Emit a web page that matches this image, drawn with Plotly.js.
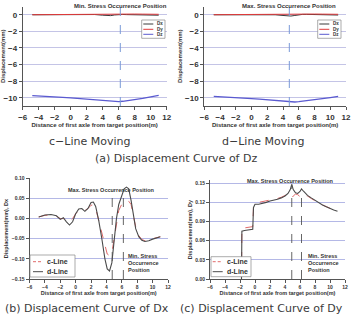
<!DOCTYPE html>
<html><head><meta charset="utf-8">
<script src="https://cdn.plot.ly/plotly-3.0.1.min.js"></script>
<style>html,body{margin:0;padding:0;background:#fff}#chart{width:351px;height:316px}</style>
</head><body><div id="chart"></div>
<script>
// ---------- data ----------
const xTop = [-4.8, -4, -3, -2, -1, 0, 1, 2, 3, 4, 4.5, 5, 5.5, 6, 6.5, 7, 8, 9, 10, 11];
// (a) c-Line moving
const cDx = [0, 0, 0.02, 0.03, 0.03, 0.04, 0.05, 0.05, 0.03, -0.05, -0.12, -0.1, -0.02, 0.05, 0.04, 0.02, 0, -0.03, -0.04, -0.05];
const cDy = [0.01, 0.02, 0.03, 0.05, 0.06, 0.08, 0.09, 0.1, 0.1, 0.11, 0.11, 0.11, 0.12, 0.12, 0.11, 0.1, 0.09, 0.08, 0.07, 0.06];
const cDz = [-9.75, -9.78, -9.82, -9.87, -9.95, -10.03, -10.1, -10.18, -10.27, -10.36, -10.41, -10.45, -10.47, -10.47, -10.43, -10.37, -10.22, -10.07, -9.9, -9.72];
// (a) d-Line moving
const dDx = [0, 0, 0.02, 0.03, 0.03, 0.04, 0.04, 0.03, 0, -0.08, -0.13, -0.15, -0.08, 0, 0.05, 0.05, 0.02, 0, -0.02, -0.03];
const dDy = [0.01, 0.02, 0.03, 0.05, 0.06, 0.08, 0.09, 0.1, 0.1, 0.11, 0.12, 0.12, 0.12, 0.11, 0.11, 0.1, 0.09, 0.08, 0.07, 0.06];
const dDz = [-9.85, -9.88, -9.92, -9.97, -10.03, -10.1, -10.17, -10.25, -10.33, -10.45, -10.52, -10.55, -10.52, -10.48, -10.43, -10.37, -10.25, -10.12, -9.98, -9.85];
const compNames = ['Dx', 'Dy', 'Dz'];

// (b) Dx
const xDx = [-4.8, -4, -3.2, -2.5, -2, -1.6, -1.2, -0.8, -0.4, 0, 0.4, 0.8, 1.2, 1.6, 2, 2.3, 2.6, 3, 3.4, 3.8, 4.1, 4.4, 4.7, 5, 5.3, 5.6, 6, 6.3, 6.6, 6.9, 7.2, 7.5, 7.8, 8.2, 8.6, 9, 9.5, 10, 10.5, 11];
const dxD = [0.004, 0.009, 0.01, 0.007, -0.002, 0.002, -0.008, -0.016, -0.008, 0.012, 0.024, 0.025, 0.018, 0.025, 0.04, 0.041, 0.03, -0.005, -0.05, -0.1, -0.125, -0.13, -0.11, -0.05, 0.0, 0.035, 0.06, 0.074, 0.078, 0.074, 0.045, 0.005, -0.025, -0.045, -0.054, -0.057, -0.055, -0.051, -0.048, -0.045];
const dxC = [0.004, 0.008, 0.009, 0.006, 0.0, 0.0, -0.004, -0.008, 0.0, 0.012, 0.02, 0.022, 0.02, 0.025, 0.033, 0.034, 0.025, -0.005, -0.04, -0.07, -0.088, -0.092, -0.085, -0.05, -0.01, 0.02, 0.036, 0.042, 0.045, 0.043, 0.035, 0.01, -0.02, -0.042, -0.052, -0.055, -0.054, -0.05, -0.047, -0.045];

// (c) Dy
const xDy = [-1.8, -1.8, -1.75, -1.4, -1.0, -0.6, -0.3, -0.2, 0, 0.5, 1, 1.5, 2, 2.5, 3, 3.5, 4, 4.4, 4.7, 4.9, 5.1, 5.4, 5.7, 6.0, 6.2, 6.5, 7, 7.5, 8, 8.5, 9, 9.5, 10, 10.5, 11];
const dyD = [0, 0.06, 0.075, 0.076, 0.077, 0.077, 0.078, 0.112, 0.117, 0.117, 0.118, 0.12, 0.122, 0.123, 0.125, 0.127, 0.13, 0.134, 0.14, 0.148, 0.14, 0.135, 0.134, 0.137, 0.141, 0.137, 0.131, 0.127, 0.123, 0.119, 0.116, 0.113, 0.11, 0.108, 0.106];
const dyC = [0, 0.06, 0.079, 0.08, 0.081, 0.081, 0.082, 0.114, 0.118, 0.12, 0.121, 0.122, 0.123, 0.124, 0.126, 0.128, 0.131, 0.133, 0.13, 0.127, 0.13, 0.133, 0.132, 0.129, 0.127, 0.131, 0.13, 0.126, 0.122, 0.119, 0.116, 0.113, 0.11, 0.108, 0.106];
const lineNames = ['c-Line', 'd-Line'];

// stress positions (m)
const minStressC = 6.2;   // c-Line min stress position
const maxStressD = 4.8;   // d-Line max stress position
const maxStressB = 4.75, minStressB = 6.2;

// ---------- layout helpers ----------
const W = 351, H = 316;
const px = v => v / W, py = v => 1 - v / H;
const colDx = '#3a3a3a', colDy = '#e03a3a', colDz = '#5a5ad0';
const colC = '#e06a6a', colD = '#4a4a4a';
const tickFontTop = {family: 'Liberation Sans, Arial', size: 8, color: '#333', weight: 'bold'};
const tickFontBot = {family: 'Liberation Sans, Arial', size: 5, color: '#333', weight: 'bold'};
const titleFont = (s) => ({family: 'Liberation Sans, Arial', size: s, color: '#333', weight: 'bold'});

function line(x, y, xa, ya, color, width, dash) {
  return {type: 'scatter', mode: 'lines', x: x, y: y, xaxis: xa, yaxis: ya,
    line: {color: color, width: width, dash: dash || 'solid'}, showlegend: false, hoverinfo: 'skip'};
}

const traces = [
  line(xTop, cDx, 'x', 'y', colDx, 1), line(xTop, cDy, 'x', 'y', colDy, 1), line(xTop, cDz, 'x', 'y', colDz, 1.3),
  line(xTop, dDx, 'x2', 'y2', colDx, 1), line(xTop, dDy, 'x2', 'y2', colDy, 1), line(xTop, dDz, 'x2', 'y2', colDz, 1.3),
  line(xDx, dxC, 'x3', 'y3', colC, 1, 'dash'), line(xDx, dxD, 'x3', 'y3', colD, 1.1),
  line(xDy, dyC, 'x4', 'y4', colC, 1, 'dash'), line(xDy, dyD, 'x4', 'y4', colD, 1.1)
];

function xax(d0, d1, anchor, tf) {
  return {domain: [px(d0), px(d1)], range: [-6, 12], dtick: 2, tick0: 0, anchor: anchor,
    ticks: 'outside', ticklen: 3, tickcolor: '#555', showline: true, linecolor: '#555', linewidth: 1,
    showgrid: false, zeroline: false, tickfont: tf, fixedrange: true};
}
function yax(b, t, anchor, range, dtick, tf, fmt, grid) {
  return {domain: [py(b), py(t)], range: range, dtick: dtick, tick0: 0, anchor: anchor,
    ticks: 'outside', ticklen: 3, tickcolor: '#555', showline: true, linecolor: '#555', linewidth: 1,
    showgrid: true, gridcolor: grid, gridwidth: 1, zeroline: false, tickfont: tf, tickformat: fmt || '', fixedrange: true};
}

const layout = {
  width: W, height: H, margin: {l: 0, r: 0, t: 0, b: 0}, paper_bgcolor: '#fff', plot_bgcolor: '#fff',
  showlegend: false,
  xaxis: Object.assign(xax(22.7, 166.7, 'y', tickFontTop), {title: {text: 'Distance of first axle from target position(m)', font: titleFont(6), standoff: 1}}),
  yaxis: Object.assign(yax(106, 6.5, 'x', [-11, 1], 2, tickFontTop, '', '#c4c4e6'), {title: {text: 'Displacement(mm)', font: titleFont(6), standoff: 2}}),
  xaxis2: Object.assign(xax(204.3, 346, 'y2', tickFontTop), {title: {text: 'Distance of first axle from target position(m)', font: titleFont(6), standoff: 1}}),
  yaxis2: Object.assign(yax(106, 6.5, 'x2', [-11, 1], 2, tickFontTop, '', '#c4c4e6'), {title: {text: 'Displacement(mm)', font: titleFont(6), standoff: 2}}),
  xaxis3: Object.assign(xax(29.5, 168, 'y3', tickFontBot), {title: {text: 'Distance of first axle from target position(m)', font: titleFont(5.5), standoff: 1}}),
  yaxis3: Object.assign(yax(279, 178.3, 'x3', [-0.15, 0.10], 0.05, tickFontBot, '.2f', '#b4b8e6'), {title: {text: 'Displacement(mm), Dx', font: titleFont(5.5), standoff: 2}}),
  xaxis4: Object.assign(xax(210, 345, 'y4', tickFontBot), {title: {text: 'Distance of first axle from target position(m)', font: titleFont(5.5), standoff: 1}}),
  yaxis4: Object.assign(yax(279, 180, 'x4', [0, 0.155], 0.03, tickFontBot, '.2f', '#b4b8e6'), {title: {text: 'Displacement(mm), Dy', font: titleFont(5.5), standoff: 2}}),
  shapes: [], annotations: []
};

const S = layout.shapes, A = layout.annotations;
// stress position vertical lines
S.push({type: 'line', xref: 'x', yref: 'y', x0: minStressC, x1: minStressC, y0: -11, y1: 0.9, line: {color: '#7a9ad8', width: 1, dash: 'dash'}});
S.push({type: 'line', xref: 'x2', yref: 'y2', x0: maxStressD, x1: maxStressD, y0: -11, y1: 0.9, line: {color: '#7a9ad8', width: 1, dash: 'dash'}});
S.push({type: 'line', xref: 'x3', yref: 'y3', x0: maxStressB, x1: maxStressB, y0: -0.15, y1: 0.062, line: {color: '#555', width: 0.9, dash: 'dash'}});
S.push({type: 'line', xref: 'x3', yref: 'y3', x0: minStressB, x1: minStressB, y0: -0.15, y1: 0.062, line: {color: '#555', width: 0.9, dash: 'dash'}});
S.push({type: 'line', xref: 'x4', yref: 'y4', x0: 4.9, x1: 4.9, y0: 0, y1: 0.148, line: {color: '#555', width: 0.9, dash: 'dash'}});
S.push({type: 'line', xref: 'x4', yref: 'y4', x0: 6.2, x1: 6.2, y0: 0, y1: 0.141, line: {color: '#555', width: 0.9, dash: 'dash'}});

function ann(text, x, y, size, opts) {
  A.push(Object.assign({text: text, xref: 'paper', yref: 'paper', x: px(x), y: py(y), showarrow: false,
    xanchor: 'center', yanchor: 'middle', font: titleFont(size)}, opts || {}));
}
// plot titles
ann('Min. Stress Occurrence Position', 120, 6, 6);
ann('Max. Stress Occurrence Position', 288.5, 6, 6);
ann('Max. Stress Occurrence Position', 111, 190, 5.5);
ann('Max. Stress Occurrence Position', 290.7, 181, 5.5);
ann('Min. Stress<br>Occurrence<br>Position', 126, 262.5, 5.5, {xanchor: 'left', align: 'left'});
ann('Min. Stress<br>Occurrence<br>Position', 306, 263, 5.5, {xanchor: 'left', align: 'left'});
// captions
const capFont = {family: 'DejaVu Sans', size: 11, color: '#3a3a3a'};
ann('c−Line Moving', 89, 142, 11, {font: capFont});
ann('d−Line Moving', 263, 142, 11, {font: capFont});
ann('(a) Displacement Curve of Dz', 176, 158, 11, {font: capFont});
ann('(b) Displacement Curve of Dx', 87, 308, 11, {font: capFont});
ann('(c) Displacement Curve of Dy', 178, 308, 11, {font: capFont, xanchor: 'left'});

// custom legends
function legend(box, rows, names, colors, dashes, widths, lx0, lx1, tx, size) {
  S.push({type: 'rect', xref: 'paper', yref: 'paper', x0: px(box[0]), x1: px(box[1]), y0: py(box[3]), y1: py(box[2]),
    line: {color: '#888', width: 0.7}, fillcolor: '#fff', layer: 'above'});
  names.forEach((n, i) => {
    S.push({type: 'line', xref: 'paper', yref: 'paper', x0: px(lx0), x1: px(lx1), y0: py(rows[i]), y1: py(rows[i]),
      line: {color: colors[i], width: widths[i], dash: dashes[i]}, layer: 'above'});
    ann(n, tx, rows[i], size, {xanchor: 'left'});
  });
}
legend([141.7, 165, 20, 38.3], [24, 29.3, 34.3], compNames, [colDx, colDy, colDz], ['solid', 'solid', 'solid'], [1, 1, 1], 143.3, 153.3, 154.5, 4.5);
legend([317.7, 341, 20, 38.3], [24, 29.3, 34.3], compNames, [colDx, colDy, colDz], ['solid', 'solid', 'solid'], [1, 1, 1], 319.3, 329.3, 330.5, 4.5);
legend([30, 75, 255, 277], [261.7, 271.7], lineNames, [colC, colD], ['3px,2px', 'solid'], [1, 1], 33, 43, 45, 7);
legend([211, 251, 256.7, 276.7], [261.7, 271.7], lineNames, [colC, colD], ['3px,2px', 'solid'], [1, 1], 212.7, 222.7, 225, 7);

Plotly.newPlot('chart', traces, layout, {staticPlot: true, displayModeBar: false});
</script></body></html>
